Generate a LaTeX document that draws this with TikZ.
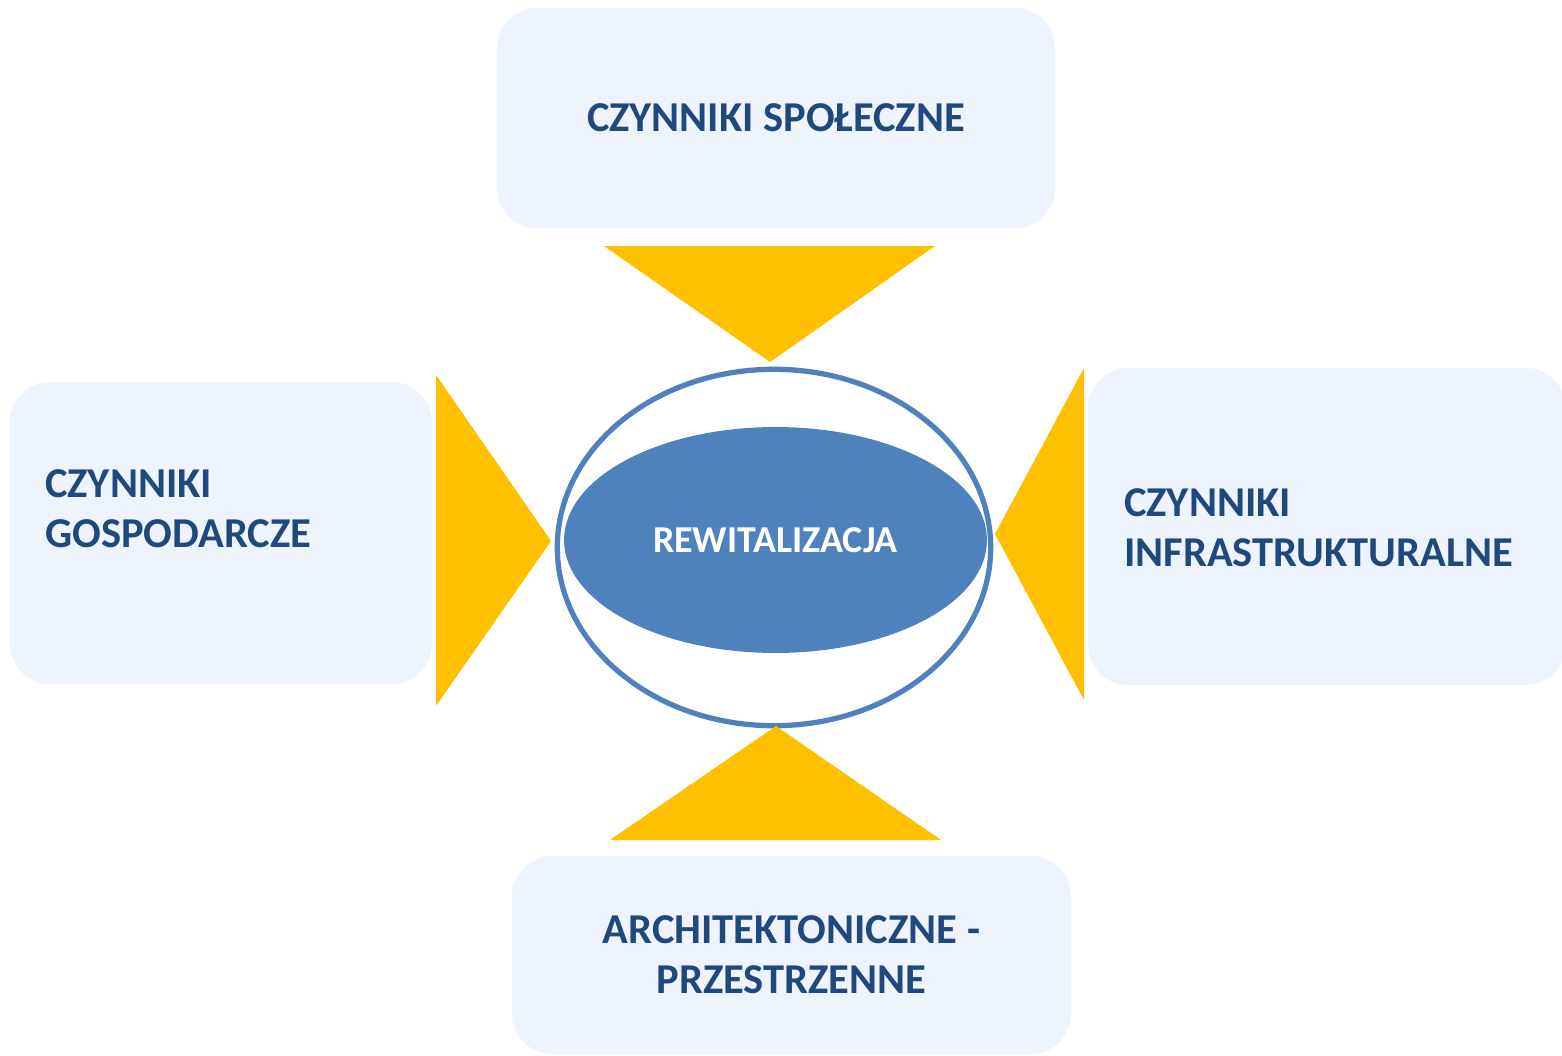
\documentclass[tikz,border=0pt]{standalone}
\usepackage{fontspec}
\setmainfont{Carlito}
\usetikzlibrary{shapes.geometric}
\definecolor{boxfill}{RGB}{237,244,254}
\definecolor{textblue}{RGB}{31,73,125}
\definecolor{coreblue}{RGB}{79,129,189}
\definecolor{arrowgold}{RGB}{255,192,0}
\tikzstyle{factor} = [rectangle, rounded corners=0.8cm, fill=boxfill, draw=none, inner sep=0pt]
\tikzstyle{caption} = [text=textblue, font=\bfseries\fontsize{24.2}{28.5}\selectfont, inner sep=0pt]
\tikzstyle{core} = [ellipse, fill=coreblue, text=white, inner sep=0pt, font=\bfseries\fontsize{21.6}{25}\selectfont]
\tikzstyle{ring} = [ellipse, draw=coreblue, line width=3pt, inner sep=0pt]
\tikzstyle{pointer} = [fill=arrowgold]

\begin{document}
\begin{tikzpicture}[x=0.02cm, y=-0.02cm]
            \useasboundingbox (0,0) rectangle (1562,1055);
            \node[factor, caption, align=center, minimum width=11.16cm, minimum height=4.4cm] (social) at (776,118) {CZYNNIKI SPOŁECZNE};
            \node[factor, minimum width=8.44cm, minimum height=6.04cm] (economic) at (221,533) {};
            \node[factor, minimum width=9.56cm, minimum height=6.34cm] (infra) at (1327,526.5) {};
            \node[factor, caption, align=center, minimum width=11.18cm, minimum height=3.96cm] (spatial) at (791.5,955) {ARCHITEKTONICZNE -\\PRZESTRZENNE};
            \node[caption, align=left, anchor=west] (economictext) at (45,509) {CZYNNIKI\\GOSPODARCZE};
            \node[caption, align=left, anchor=west] (infratext) at (1124,528) {CZYNNIKI\\INFRASTRUKTURALNE};
            \node[ring, minimum width=8.67cm, minimum height=7.13cm] (ring) at (774,547.5) {};
            \node[core, minimum width=8.46cm, minimum height=4.52cm] (core) at (775.5,540) {REWITALIZACJA};
            % pointers towards the centre
            \fill[pointer] (604,246) -- (935,246) -- (770,362) -- cycle;
            \fill[pointer] (436,375) -- (436,706) -- (551,541) -- cycle;
            \fill[pointer] (1084,368) -- (1084,700) -- (995,534) -- cycle;
            \fill[pointer] (610,840) -- (941,840) -- (776,726) -- cycle;
        \end{tikzpicture}
\end{document}
